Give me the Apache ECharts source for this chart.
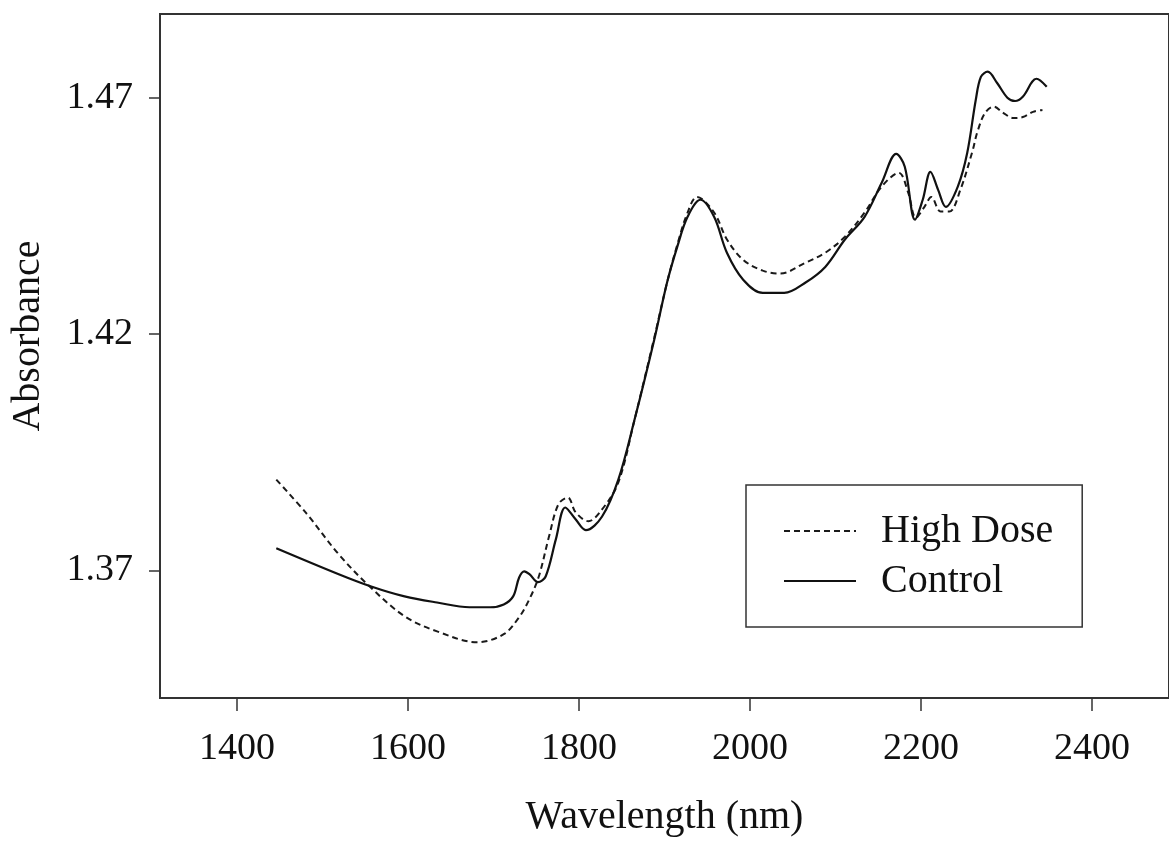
<!DOCTYPE html>
<html>
<head>
<meta charset="utf-8">
<script src="https://cdn.jsdelivr.net/npm/echarts@6/dist/echarts.min.js"></script>
<style>
html,body{margin:0;padding:0;background:#fff;}
#chart{width:1169px;height:842px;}
</style>
</head>
<body>
<div id="chart"></div>
<script>
// Tick labels
const xTicks = [1400, 1600, 1800, 2000, 2200, 2400];
const yTicks = [1.37, 1.42, 1.47];

// Control series (solid)
const wavelengthControl = [1446,1519,1557,1596,1634,1672,1696,1712,1723,1730,1736,1742,1752,1761,1773,1784,1796,1808,1827,1846,1865,1888,1903,1915,1927,1942,1958,1973,1992,2015,2040,2065,2088,2111,2134,2154,2171,2181,2193,2202,2211,2220,2229,2243,2254,2264,2270,2278,2289,2301,2310,2319,2335,2347];
const absorbanceControl = [1.3747,1.3692,1.3666,1.3645,1.3632,1.3622,1.3622,1.3628,1.3645,1.3685,1.3698,1.3692,1.3675,1.3687,1.3766,1.3833,1.3808,1.3785,1.3814,1.3892,1.4019,1.4188,1.4309,1.4385,1.4448,1.4484,1.4448,1.4372,1.4315,1.4287,1.4287,1.4309,1.4342,1.4400,1.4448,1.4520,1.4581,1.4554,1.4442,1.4484,1.4543,1.4505,1.4469,1.4512,1.4583,1.4695,1.4744,1.4755,1.4731,1.4700,1.4693,1.4702,1.4740,1.4723];

// High Dose series (dashed)
const wavelengthHighDose = [1446,1481,1519,1554,1596,1634,1681,1712,1730,1742,1753,1765,1776,1787,1796,1811,1827,1846,1865,1888,1903,1915,1927,1938,1958,1973,1992,2015,2035,2065,2088,2111,2134,2154,2174,2185,2194,2204,2212,2223,2233,2246,2260,2266,2275,2285,2296,2308,2319,2331,2342];
const absorbanceHighDose = [1.3892,1.3821,1.3734,1.3668,1.3603,1.3571,1.3548,1.3565,1.3601,1.3639,1.3687,1.3772,1.3840,1.3854,1.3823,1.3804,1.3829,1.3886,1.4019,1.4192,1.4309,1.4389,1.4457,1.4490,1.4457,1.4400,1.4357,1.4334,1.4328,1.4351,1.4372,1.4406,1.4457,1.4512,1.4541,1.4499,1.4446,1.4469,1.4490,1.4459,1.4459,1.4505,1.4586,1.4628,1.4668,1.4681,1.4668,1.4657,1.4659,1.4670,1.4674];

const seriesNames = ['High Dose', 'Control'];

const pairs = (xs, ys) => xs.map((x, i) => [x, ys[i]]);
const FONT = '"Liberation Serif", "Times New Roman", serif';
const INK = '#111';

const chart = echarts.init(document.getElementById('chart'), null, {renderer: 'canvas'});
chart.setOption({
  animation: false,
  backgroundColor: '#fff',
  grid: {
    left: 159, top: 14, width: 1022, height: 685,
    show: true, borderColor: '#333', borderWidth: 2, backgroundColor: 'transparent'
  },
  legend: {
    orient: 'vertical',
    left: 746, top: 485,
    padding: [26, 29, 26, 37],
    itemGap: 10,
    itemWidth: 72, itemHeight: 14,
    borderColor: '#333', borderWidth: 1.5,
    backgroundColor: '#fff',
    itemStyle: {opacity: 0},
    data: seriesNames,
    textStyle: {fontFamily: FONT, fontSize: 40, color: INK, padding: [0, 0, 0, 20]}
  },
  xAxis: {
    type: 'value',
    min: 1310, max: 2490,
    name: 'Wavelength (nm)',
    nameLocation: 'middle',
    nameGap: 99,
    nameTextStyle: {fontFamily: FONT, fontSize: 40, color: INK},
    axisLine: {show: true, onZero: false, lineStyle: {color: '#333', width: 2}},
    axisTick: {show: true, length: 13, customValues: xTicks, lineStyle: {color: '#333', width: 1.5}},
    axisLabel: {customValues: xTicks, margin: 32, fontFamily: FONT, fontSize: 38, color: INK,
      formatter: v => String(v)},
    splitLine: {show: false}
  },
  yAxis: {
    type: 'value',
    min: 1.343, max: 1.4877,
    name: 'Absorbance',
    nameLocation: 'middle',
    nameRotate: 90,
    nameGap: 112,
    nameTextStyle: {fontFamily: FONT, fontSize: 40, color: INK, padding: [0, 0, 0, 40]},
    axisLine: {show: true, onZero: false, lineStyle: {color: '#333', width: 2}},
    axisTick: {show: true, length: 11, customValues: yTicks, lineStyle: {color: '#333', width: 1.5}},
    axisLabel: {customValues: yTicks, margin: 27, fontFamily: FONT, fontSize: 38, color: INK,
      padding: [6, 0, 0, 0],
      formatter: v => v.toFixed(2)},
    splitLine: {show: false}
  },
  series: [
    {
      name: seriesNames[0], type: 'line',
      data: pairs(wavelengthHighDose, absorbanceHighDose),
      symbol: 'none', smooth: 0.35,
      lineStyle: {color: '#1a1a1a', width: 2, type: [6, 4]},
      itemStyle: {color: '#1a1a1a'}
    },
    {
      name: seriesNames[1], type: 'line',
      data: pairs(wavelengthControl, absorbanceControl),
      symbol: 'none', smooth: 0.35,
      lineStyle: {color: '#111', width: 2.2, type: 'solid'},
      itemStyle: {color: '#111'}
    }
  ]
});
</script>
</body>
</html>
